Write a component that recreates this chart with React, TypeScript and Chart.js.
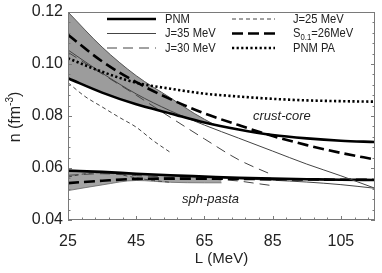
import React, { useEffect, useRef } from "react";
import { Chart, registerables } from "chart.js";
Chart.register(...registerables);

// ---------- axis ranges & ticks ----------
const X_MIN = 25;
const X_MAX = 115;
const Y_MIN = 0.04;
const Y_MAX = 0.12;
const X_TICKS = [25, 45, 65, 85, 105];
const X_TICK_LABELS = ["25", "45", "65", "85", "105"];
const Y_TICKS = [0.04, 0.06, 0.08, 0.1, 0.12];
const Y_TICK_LABELS = ["0.04", "0.06", "0.08", "0.10", "0.12"];
const X_MINOR_STEP = 4;
const Y_MINOR_STEP = 0.004;

// ---------- crust-core transition ----------
const L_CC = [25, 35, 45, 55, 65, 75, 85, 95, 105, 115];
const PNM_CC = [0.0945, 0.089, 0.0845, 0.081, 0.0775, 0.0748, 0.0727, 0.0714, 0.0705, 0.07];
const PNMPA_CC = [0.1022, 0.097, 0.0928, 0.0905, 0.0886, 0.0875, 0.0866, 0.086, 0.0857, 0.0855];
const S01_CC = [0.1112, 0.101, 0.093, 0.0865, 0.081, 0.0765, 0.0723, 0.0688, 0.0658, 0.0633];
const J35_CC = [0.1054, 0.0965, 0.0885, 0.082, 0.0765, 0.0715, 0.0665, 0.0615, 0.057, 0.0522];
const L_J30_CC = [25, 35, 45, 55, 65, 75, 85];
const J30_CC = [0.1045, 0.0962, 0.088, 0.0795, 0.0712, 0.0632, 0.0573];
const L_J25_CC = [25, 30, 35, 40, 45, 50, 55];
const J25_CC = [0.0928, 0.0875, 0.0835, 0.0795, 0.0757, 0.0705, 0.066];
const L_BAND_CC = [25, 35, 45, 55, 62, 68];
const BAND_CC_TOP = [0.12, 0.1065, 0.0955, 0.087, 0.081, 0.0766];
const BAND_CC_BOT = [0.0945, 0.089, 0.0845, 0.081, 0.0785, 0.0766];

// ---------- spherical-pasta transition ----------
const L_SP = [25, 35, 45, 55, 65, 75, 85, 95, 105, 115];
const PNM_SP = [0.059, 0.0585, 0.0578, 0.0572, 0.0567, 0.0562, 0.0559, 0.0557, 0.0555, 0.0554];
const S01_SP = [0.0542, 0.0551, 0.0558, 0.0559, 0.0559, 0.0558, 0.0557, 0.0556, 0.0555, 0.0555];
const J35_SP = [0.0588, 0.0582, 0.0576, 0.057, 0.0565, 0.0559, 0.0553, 0.0546, 0.0536, 0.0522];
const L_J30_SP = [25, 35, 45, 55, 65, 70, 75, 80, 85];
const J30_SP = [0.0572, 0.0578, 0.0571, 0.0564, 0.0558, 0.0555, 0.055, 0.0541, 0.0532];
const L_J25_SP = [25, 30, 35, 40, 45, 50, 55];
const J25_SP = [0.0565, 0.0578, 0.0582, 0.0575, 0.0562, 0.0552, 0.0545];
const L_BAND_SP = [25, 35, 45, 55, 65, 70];
const BAND_SP_TOP = [0.059, 0.0585, 0.0578, 0.0572, 0.0567, 0.0565];
const BAND_SP_BOT = [0.0513, 0.0535, 0.0552, 0.0545, 0.0543, 0.0543];

// ---------- texts ----------
const Y_TITLE = ["n (fm", "-3", ")"];
const X_TITLE = "L (MeV)";
const LABEL_CC = "crust-core";
const LABEL_SP = "sph-pasta";

const FONT = "'Liberation Sans', Arial, Helvetica, sans-serif";

const pts = (xs: number[], ys: number[]) => xs.map((x, i) => ({ x, y: ys[i] }));

type Style = { color: string; width: number; dash: number[] };
const ST_PNM: Style = { color: "#000", width: 2.6, dash: [] };
const ST_J35: Style = { color: "#444", width: 1, dash: [] };
const ST_J30: Style = { color: "#444", width: 1, dash: [10, 6] };
const ST_J25: Style = { color: "#444", width: 1, dash: [4, 3] };
const ST_S01: Style = { color: "#000", width: 2.6, dash: [11, 5] };
const ST_PA: Style = { color: "#000", width: 2.6, dash: [2.2, 2.4] };

const LEGEND = [
  { col: 0, row: 0, parts: [{ t: "PNM" }], st: ST_PNM },
  { col: 0, row: 1, parts: [{ t: "J=35 MeV" }], st: ST_J35 },
  { col: 0, row: 2, parts: [{ t: "J=30 MeV" }], st: ST_J30 },
  { col: 1, row: 0, parts: [{ t: "J=25 MeV" }], st: ST_J25 },
  { col: 1, row: 1, parts: [{ t: "S" }, { t: "0.1", sub: true }, { t: "=26MeV" }], st: ST_S01 },
  { col: 1, row: 2, parts: [{ t: "PNM PA" }], st: ST_PA },
];

function line(label: string, data: any[], st: Style, extra: any = {}) {
  return {
    label,
    data,
    borderColor: st.color,
    borderWidth: st.width,
    borderDash: st.dash,
    pointRadius: 0,
    fill: false,
    cubicInterpolationMode: "monotone",
    ...extra,
  };
}

const overlay = {
  id: "overlay",
  afterDraw(chart: any) {
    const ctx = chart.ctx as CanvasRenderingContext2D;
    const xs = chart.scales.x;
    const ys = chart.scales.y;
    const { left, right, top, bottom } = chart.chartArea;
    ctx.save();
    // frame
    ctx.strokeStyle = "#7a7a7a";
    ctx.lineWidth = 1;
    ctx.setLineDash([]);
    ctx.strokeRect(left + 0.5, top + 0.5, right - left - 1, bottom - top - 1);
    // x ticks
    ctx.beginPath();
    for (let v = X_MIN; v <= X_MAX + 1e-9; v += X_MINOR_STEP) {
      const px = Math.round(xs.getPixelForValue(v)) + 0.5;
      ctx.moveTo(px, bottom);
      ctx.lineTo(px, bottom - 2.5);
    }
    for (const v of X_TICKS) {
      const px = Math.round(xs.getPixelForValue(v)) + 0.5;
      ctx.moveTo(px, bottom);
      ctx.lineTo(px, bottom - 4);
    }
    // y ticks left & right
    for (let v = Y_MIN; v <= Y_MAX + 1e-9; v += Y_MINOR_STEP) {
      const py = Math.round(ys.getPixelForValue(v)) + 0.5;
      const major = Y_TICKS.some((t) => Math.abs(t - v) < 1e-6);
      const len = major ? 4 : 2.5;
      ctx.moveTo(left, py);
      ctx.lineTo(left + len, py);
      ctx.moveTo(right, py);
      ctx.lineTo(right - len, py);
    }
    ctx.stroke();

    // tick labels
    ctx.fillStyle = "#222";
    ctx.font = `16px ${FONT}`;
    ctx.textAlign = "center";
    ctx.textBaseline = "middle";
    X_TICKS.forEach((v, i) => {
      ctx.fillText(X_TICK_LABELS[i], xs.getPixelForValue(v), bottom + 22);
    });
    ctx.textAlign = "right";
    Y_TICKS.forEach((v, i) => {
      ctx.fillText(Y_TICK_LABELS[i], left - 5, ys.getPixelForValue(v));
    });

    // x title
    ctx.font = `15px ${FONT}`;
    ctx.textAlign = "center";
    ctx.fillText(X_TITLE, (left + right) / 2, bottom + 39);

    // y title with superscript
    ctx.save();
    ctx.translate(16, (top + bottom) / 2 + 1);
    ctx.rotate(-Math.PI / 2);
    ctx.font = `16px ${FONT}`;
    const w0 = ctx.measureText(Y_TITLE[0]).width;
    ctx.font = `10px ${FONT}`;
    const w1 = ctx.measureText(Y_TITLE[1]).width;
    ctx.font = `16px ${FONT}`;
    const w2 = ctx.measureText(Y_TITLE[2]).width;
    const x0 = -(w0 + w1 + w2) / 2;
    ctx.textAlign = "left";
    ctx.fillText(Y_TITLE[0], x0, 0);
    ctx.font = `10px ${FONT}`;
    ctx.fillText(Y_TITLE[1], x0 + w0, -6);
    ctx.font = `16px ${FONT}`;
    ctx.fillText(Y_TITLE[2], x0 + w0 + w1, 0);
    ctx.restore();

    // region labels
    ctx.font = `italic 13px ${FONT}`;
    ctx.textAlign = "left";
    ctx.fillText(LABEL_CC, 253, 116);
    ctx.fillText(LABEL_SP, 182, 199);

    // legend
    const colSample = [
      [107, 156],
      [232, 275],
    ];
    const colText = [165, 293];
    const rowY = [19, 33.5, 48];
    const squeeze = 0.86;
    for (const e of LEGEND) {
      const y = rowY[e.row];
      const [a, b] = colSample[e.col];
      ctx.beginPath();
      ctx.strokeStyle = e.st.color;
      ctx.lineWidth = e.st.width;
      ctx.setLineDash(e.st.dash);
      ctx.moveTo(a, y);
      ctx.lineTo(b, y);
      ctx.stroke();
      ctx.setLineDash([]);
      ctx.save();
      ctx.translate(colText[e.col], 0);
      ctx.scale(squeeze, 1);
      let x = 0;
      ctx.fillStyle = "#222";
      ctx.textAlign = "left";
      for (const p of e.parts as any[]) {
        if (p.sub) {
          ctx.font = `9px ${FONT}`;
          ctx.fillText(p.t, x, y + 4);
        } else {
          ctx.font = `13px ${FONT}`;
          ctx.fillText(p.t, x, y);
        }
        x += ctx.measureText(p.t).width;
      }
      ctx.restore();
    }
    ctx.restore();
  },
};

export default function App() {
  const ref = useRef<HTMLCanvasElement | null>(null);
  useEffect(() => {
    document.body.style.margin = "0";
    const canvas = ref.current!;
    const chart = new Chart(canvas, {
      type: "line",
      data: {
        datasets: [
          line("PNM", pts(L_CC, PNM_CC), ST_PNM),
          line("S01", pts(L_CC, S01_CC), ST_S01),
          line("PNM PA", pts(L_CC, PNMPA_CC), ST_PA),
          line("J35", pts(L_CC, J35_CC), ST_J35),
          line("J30", pts(L_J30_CC, J30_CC), ST_J30),
          line("J25", pts(L_J25_CC, J25_CC), ST_J25),
          line("PNM sp", pts(L_SP, PNM_SP), ST_PNM),
          line("S01 sp", pts(L_SP, S01_SP), ST_S01),
          line("J35 sp", pts(L_SP, J35_SP), ST_J35),
          line("J30 sp", pts(L_J30_SP, J30_SP), ST_J30),
          line("J25 sp", pts(L_J25_SP, J25_SP), ST_J25),
          line("band cc top", pts(L_BAND_CC, BAND_CC_TOP), { color: "#555", width: 1, dash: [] }, {
            fill: "+1",
            backgroundColor: "#9c9c9c",
          }),
          line("band cc bot", pts(L_BAND_CC, BAND_CC_BOT), { color: "rgba(0,0,0,0)", width: 0, dash: [] }),
          line("band sp top", pts(L_BAND_SP, BAND_SP_TOP), { color: "rgba(0,0,0,0)", width: 0, dash: [] }, {
            fill: "+1",
            backgroundColor: "#a4a4a4",
          }),
          line("band sp bot", pts(L_BAND_SP, BAND_SP_BOT), { color: "#666", width: 0.8, dash: [] }),
        ],
      },
      options: {
        responsive: false,
        animation: false,
        events: [],
        layout: { padding: { left: 68, right: 7, top: 12, bottom: 53 } },
        scales: {
          x: { type: "linear", min: X_MIN, max: X_MAX, display: false },
          y: { type: "linear", min: Y_MIN, max: Y_MAX, display: false },
        },
        plugins: {
          legend: { display: false },
          tooltip: { enabled: false },
          filler: { drawTime: "beforeDatasetsDraw" },
        },
      } as any,
      plugins: [overlay],
    });
    return () => chart.destroy();
  }, []);
  return (
    <div style={{ position: "absolute", left: 0, top: 0, width: 382, height: 273, background: "#fff" }}>
      <canvas ref={ref} width={382} height={273} style={{ width: 382, height: 273 }} />
    </div>
  );
}
